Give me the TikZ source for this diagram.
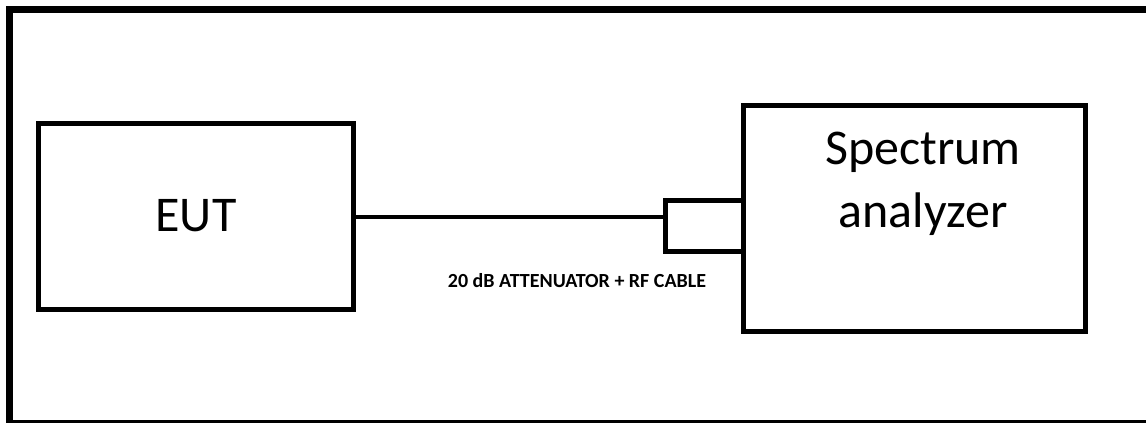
\documentclass[tikz,border=0pt]{standalone}
\usepackage{fontspec}
\setmainfont{Carlito}
\usetikzlibrary{positioning}

\begin{document}
\begin{tikzpicture}[x=1pt, y=-1pt, >=latex]
    % 0. Khung ngoai
    \useasboundingbox (0,0) rectangle (1146,423);
    \begin{scope}
        \clip (0,0) rectangle (1146,423);
        \draw[line width=7pt] (9.5,9) rectangle (1160,423);
    \end{scope}

    % 1. Cac khoi thiet bi
    \node[draw, line width=5pt, minimum width=315pt, minimum height=186pt,
          inner sep=0pt, outer sep=0pt, font=\fontsize{50}{60}\selectfont]
        (eut) at (196,216) {EUT};
    \node[draw, line width=5pt, minimum width=342pt, minimum height=226pt,
          inner sep=0pt, outer sep=0pt] (sa) at (914.5,218) {};
    \node[align=center, font=\fontsize{50}{63}\selectfont]
        (satext) at (923,184) {Spectrum\\analyzer};

    % 2. Bo suy hao gan vao may phan tich
    \node[draw, line width=5pt, minimum width=78.5pt, minimum height=51.5pt,
          inner sep=0pt, outer sep=0pt, anchor=east]
        (att) at (sa.west |- 0,225.75) {};

    % 3. Cap RF
    \draw[line width=4.5pt] (eut.east |- 0,217) -- (att.west |- 0,217);
    \node[font=\bfseries\fontsize{20}{24}\selectfont]
        (cable) at (577,281) {20 dB ATTENUATOR + RF CABLE};
\end{tikzpicture}
\end{document}
